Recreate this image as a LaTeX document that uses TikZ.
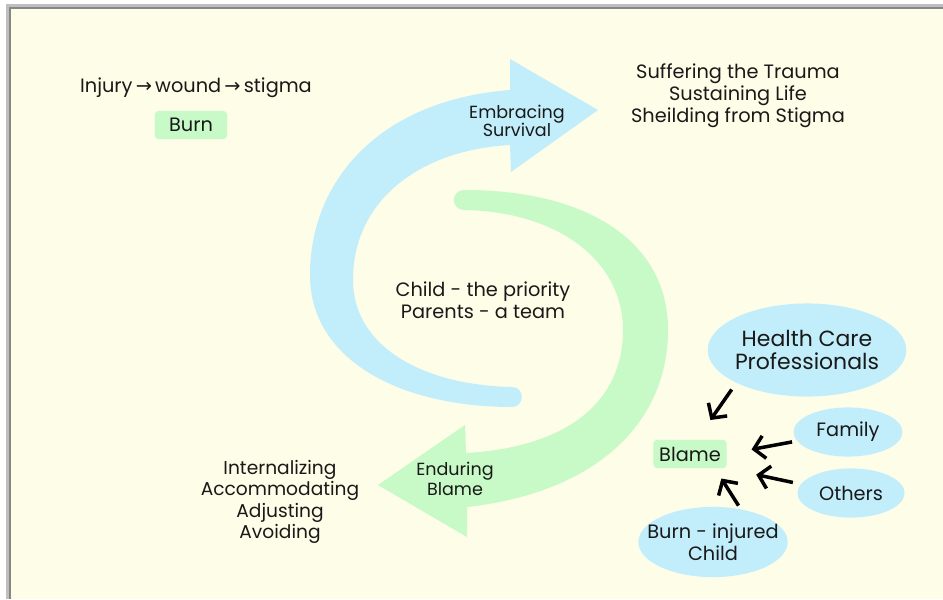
\documentclass[tikz,border=0pt]{standalone}
\usepackage{fontspec}
\setmainfont{Poppins}
\newfontfamily\symfont{DejaVu Sans}
\usetikzlibrary{shapes.geometric,arrows.meta}
\definecolor{cream}{RGB}{253,253,232}
\definecolor{skyblue}{RGB}{194,238,252}
\definecolor{mint}{RGB}{199,250,199}
\definecolor{ink}{RGB}{25,25,25}
\definecolor{framegray}{RGB}{135,135,135}

\begin{document}
\begin{tikzpicture}[x=0.02cm,y=-0.02cm,font=\fontsize{11}{12.5}\selectfont,text=ink]

      \useasboundingbox (0,0) rectangle (943,599);
      \fill[cream] (10,8) rectangle (943,599);
      \draw[black!25,line width=2pt] (8,599) -- (8,6) -- (943,6);
      \draw[framegray,line width=1pt] (10,599) -- (10,8) -- (943,8);

      \fill[skyblue] (510,90) .. controls (380,100) and (310,180) .. (310,275)
        .. controls (310,360) and (400,407) .. (512,407)
        .. controls (525,407) and (525,387) .. (512,387)
        .. controls (420,385) and (353,345) .. (353,280)
        .. controls (353,200) and (420,150) .. (510,145)
        -- (511,172) -- (598,110) -- (510,59) -- cycle;

      \fill[mint] (467,507) .. controls (600,492) and (668,420) .. (668,330)
        .. controls (668,240) and (585,190) .. (465,190)
        .. controls (450,190) and (450,210) .. (465,210)
        .. controls (560,212) and (623,262) .. (623,330)
        .. controls (623,400) and (570,447) .. (466,453)
        -- (465,425) -- (378,485) -- (467,537) -- cycle;

      \begin{scope}[every node/.style={align=center}]
        \node (chain)    at (196,88)  {Injury\,{\symfont→}\,wound\,{\symfont→}\,stigma};
        \node (outcomes) at (738,96)  {Suffering the Trauma\\Sustaining Life\\Sheilding from Stigma};
        \node[font=\fontsize{10}{10.6}\selectfont] (survival) at (517,121) {Embracing\\Survival};
        \node (core)     at (483,300) {Child - the priority\\Parents - a team};
        \node[font=\fontsize{10}{11}\selectfont] (enduring) at (455,479) {Enduring\\Blame};
        \node[font=\fontsize{10.6}{12.2}\selectfont] (coping) at (280,502) {Internalizing\\Accommodating\\Adjusting\\Avoiding};
      \end{scope}

      \begin{scope}[every node/.style={fill=mint,rounded corners=2pt,minimum width=41pt,minimum height=16pt}]
        \node (burn)  at (191,125) {Burn};
        \node (blame) at (690,454) {Blame};
      \end{scope}

      \begin{scope}[every node/.style={ellipse,fill=skyblue,inner sep=0pt}]
        \node[minimum width=113pt,minimum height=53pt] (hcp)    at (807,350) {};
        \node[minimum width=62pt,minimum height=28pt]  (family) at (848,432) {};
        \node[minimum width=61pt,minimum height=28pt]  (others) at (851,493) {};
        \node[minimum width=85pt,minimum height=40pt]  (child)  at (713,542) {};
      \end{scope}

      \begin{scope}[every node/.style={align=center}]
        \node[font=\fontsize{12.5}{13.6}\selectfont] (hcp text) at (hcp) {Health Care\\Professionals};
        \node (family text) at (family) {Family};
        \node (others text) at (others) {Others};
        \node (child text)  at (child)  {Burn - injured\\Child};
      \end{scope}

      \begin{scope}[every edge/.style={draw=black,line width=2pt,-{Straight Barb[length=6pt,width=13pt]}}]
        \path (hcp.205)    edge[shorten <=4.5pt,shorten >=13.6pt] (blame.65);
        \path (family.190) edge[shorten <=2.8pt,shorten >=14.2pt] (blame.east);
        \path (others.170) edge[shorten <=4.5pt,shorten >=17pt]   (blame.south east);
        \path (child.50)   edge[shorten <=2.3pt,shorten >=6.8pt]  (blame.-30);
      \end{scope}

    \end{tikzpicture}
\end{document}
